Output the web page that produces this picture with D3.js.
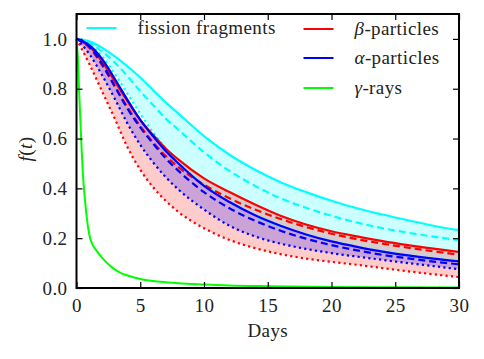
<!DOCTYPE html>
<html>
<head>
	<meta charset="utf-8" />
	<style>
		body {
			margin: 0;
			background-color: #fff;
		}
		svg text {
			font-family: 'Liberation Serif', 'Times New Roman', serif;
			font-size: 19px;
			letter-spacing: 0.4px;
			fill: #222;
		}
		.frame {
			fill: none;
			stroke: #000;
			stroke-width: 2px;
		}
		.tick line {
			stroke: #000;
			stroke-width: 1.2px;
		}
		.domain {
			stroke: none;
		}
	</style>
</head>
<body>
<div class='chart'></div>

<script src="https://d3js.org/d3.v7.min.js"></script>
<script>

//// Data ////
var days = [0, 1, 2, 3, 4, 5, 6, 7, 8, 10, 12, 14, 16, 18, 20, 22, 24, 26, 28, 30];

var fissionSolid  = [1, 0.99, 0.965, 0.93, 0.89, 0.845, 0.795, 0.745, 0.70, 0.61, 0.535, 0.475, 0.425, 0.385, 0.35, 0.32, 0.295, 0.272, 0.25, 0.232];
var fissionDashed = [1, 0.985, 0.95, 0.905, 0.85, 0.79, 0.735, 0.68, 0.635, 0.545, 0.47, 0.41, 0.36, 0.322, 0.29, 0.263, 0.24, 0.222, 0.206, 0.192];
var fissionDotted = [1, 0.98, 0.93, 0.86, 0.78, 0.70, 0.625, 0.56, 0.50, 0.415, 0.345, 0.29, 0.248, 0.215, 0.188, 0.165, 0.146, 0.131, 0.118, 0.107];

var betaSolid  = [1, 0.97, 0.91, 0.83, 0.75, 0.675, 0.615, 0.56, 0.515, 0.44, 0.385, 0.335, 0.29, 0.255, 0.228, 0.207, 0.188, 0.172, 0.158, 0.145];
var betaDashed = [1, 0.965, 0.895, 0.81, 0.725, 0.65, 0.585, 0.53, 0.485, 0.415, 0.36, 0.315, 0.277, 0.245, 0.218, 0.196, 0.178, 0.162, 0.147, 0.134];
var betaDotted = [1, 0.9, 0.79, 0.68, 0.565, 0.475, 0.405, 0.35, 0.305, 0.24, 0.193, 0.16, 0.136, 0.118, 0.105, 0.093, 0.08, 0.067, 0.055, 0.044];

var alphaSolid  = [1, 0.975, 0.92, 0.84, 0.755, 0.675, 0.61, 0.55, 0.50, 0.41, 0.345, 0.292, 0.25, 0.215, 0.187, 0.165, 0.146, 0.131, 0.118, 0.107];
var alphaDashed = [1, 0.97, 0.9, 0.81, 0.72, 0.645, 0.58, 0.52, 0.47, 0.385, 0.32, 0.27, 0.23, 0.198, 0.172, 0.151, 0.133, 0.119, 0.106, 0.095];
var alphaDotted = [1, 0.94, 0.855, 0.76, 0.66, 0.575, 0.505, 0.445, 0.395, 0.315, 0.25, 0.207, 0.178, 0.157, 0.14, 0.126, 0.113, 0.1, 0.088, 0.075];

var gammaDays   = [0, 0.05, 0.1, 0.2, 0.3, 0.4, 0.5, 0.6, 0.7, 0.8, 1.0, 1.25, 1.5, 2, 2.5, 3, 3.5, 4, 5, 6, 7, 8, 10, 12, 15, 20, 25, 30];
var gammaValues = [1, 0.97, 0.93, 0.8, 0.68, 0.56, 0.46, 0.39, 0.335, 0.285, 0.215, 0.175, 0.155, 0.122, 0.095, 0.075, 0.06, 0.05, 0.036, 0.028, 0.023, 0.019, 0.014, 0.01, 0.007, 0.004, 0.003, 0.002];

var xTicks = [0, 5, 10, 15, 20, 25, 30];
var yTicks = [0.0, 0.2, 0.4, 0.6, 0.8, 1.0];

//// Layout ////
var margin = {top: 14, right: 25, bottom: 71, left: 76.5},
    width = 484 - margin.left - margin.right,
    height = 359 - margin.top - margin.bottom;

var x = d3.scaleLinear().domain([0, 30]).range([0, width]);
var y = d3.scaleLinear().domain([0, 1.1]).range([height, 0]);

var svg = d3.select(".chart").append("svg")
    .attr("width", 484)
    .attr("height", 359)
  .append("g")
    .attr("transform", "translate(" + margin.left + "," + margin.top + ")");

// zip helpers
function pts(xs, ys) {
	return xs.map(function (d, i) { return [d, ys[i]]; });
}
function band(lo, hi) {
	return days.map(function (d, i) { return [d, lo[i], hi[i]]; });
}

var line = d3.line()
    .x(function (d) { return x(d[0]); })
    .y(function (d) { return y(d[1]); })
    .curve(d3.curveMonotoneX);

var area = d3.area()
    .x(function (d) { return x(d[0]); })
    .y0(function (d) { return y(d[1]); })
    .y1(function (d) { return y(d[2]); })
    .curve(d3.curveMonotoneX);

// shaded bands, solid to dotted
var bands = [
	{lo: fissionDotted, hi: fissionSolid, color: "#00ffff"},
	{lo: betaDotted, hi: betaSolid, color: "#ff0000"},
	{lo: alphaDotted, hi: alphaSolid, color: "#0000ff"}
];
bands.forEach(function (b) {
	svg.append("path")
	    .datum(band(b.lo, b.hi))
	    .attr("d", area)
	    .attr("fill", b.color)
	    .attr("fill-opacity", 0.2)
	    .attr("stroke", "none");
});

// the curves
var dashes = {solid: null, dashed: "7,4", dotted: "2.2,3.2"};
var curves = [
	{v: fissionSolid, c: "#00ffff", s: "solid"},
	{v: fissionDashed, c: "#00ffff", s: "dashed"},
	{v: fissionDotted, c: "#00ffff", s: "dotted"},
	{v: betaSolid, c: "#ff0000", s: "solid"},
	{v: betaDashed, c: "#ff0000", s: "dashed"},
	{v: betaDotted, c: "#ff0000", s: "dotted"},
	{v: alphaSolid, c: "#0000ff", s: "solid"},
	{v: alphaDashed, c: "#0000ff", s: "dashed"},
	{v: alphaDotted, c: "#0000ff", s: "dotted"}
];
curves.forEach(function (k) {
	svg.append("path")
	    .datum(pts(days, k.v))
	    .attr("d", line)
	    .attr("fill", "none")
	    .attr("stroke", k.c)
	    .attr("stroke-width", 2.2)
	    .attr("stroke-dasharray", dashes[k.s]);
});

svg.append("path")
    .datum(pts(gammaDays, gammaValues))
    .attr("d", line)
    .attr("fill", "none")
    .attr("stroke", "#00ff00")
    .attr("stroke-width", 2);

//// Axes, ticks pointing in on all four sides ////
svg.append("g")
    .attr("class", "axis")
    .attr("transform", "translate(0," + height + ")")
    .call(d3.axisBottom(x).tickValues(xTicks).tickSize(-6).tickPadding(11).tickFormat(d3.format("d")));
svg.append("g")
    .attr("class", "axis")
    .call(d3.axisTop(x).tickValues(xTicks).tickSize(-6).tickFormat(""));
svg.append("g")
    .attr("class", "axis")
    .call(d3.axisLeft(y).tickValues(yTicks).tickSize(-6).tickPadding(9).tickFormat(d3.format(".1f")));
svg.append("g")
    .attr("class", "axis")
    .attr("transform", "translate(" + width + ",0)")
    .call(d3.axisRight(y).tickValues(yTicks).tickSize(-6).tickFormat(""));

svg.selectAll(".axis").attr("font-family", null).attr("font-size", null);
svg.selectAll(".axis text").attr("fill", "#222");

svg.append("rect")
    .attr("class", "frame")
    .attr("width", width)
    .attr("height", height);

// axis labels
svg.append("text")
    .attr("x", width / 2)
    .attr("y", height + 49)
    .attr("text-anchor", "middle")
    .text("Days");

var ylab = svg.append("text")
    .attr("transform", "translate(-45," + (height / 2 - 2) + ") rotate(-90)")
    .attr("text-anchor", "middle");
ylab.append("tspan").attr("font-style", "italic").text("f");
ylab.append("tspan").text("(");
ylab.append("tspan").attr("font-style", "italic").text("t");
ylab.append("tspan").text(")");

//// Legend ////
var legend = [
	{greek: "", label: "fission fragments", color: "#00ffff", lx: 10, ly: 14},
	{greek: "\u03b2", label: "-particles", color: "#ff0000", lx: 227, ly: 15},
	{greek: "\u03b1", label: "-particles", color: "#0000ff", lx: 227, ly: 44},
	{greek: "\u03b3", label: "-rays", color: "#00ff00", lx: 227, ly: 74}
];
legend.forEach(function (e) {
	svg.append("line")
	    .attr("x1", e.lx).attr("x2", e.lx + 30)
	    .attr("y1", e.ly).attr("y2", e.ly)
	    .attr("stroke", e.color)
	    .attr("stroke-width", 2);
	var t = svg.append("text")
	    .attr("x", e.lx + 51)
	    .attr("y", e.ly + 6);
	if (e.greek) t.append("tspan").attr("font-style", "italic").text(e.greek);
	t.append("tspan").text(e.label);
});

</script>
</body>
</html>
